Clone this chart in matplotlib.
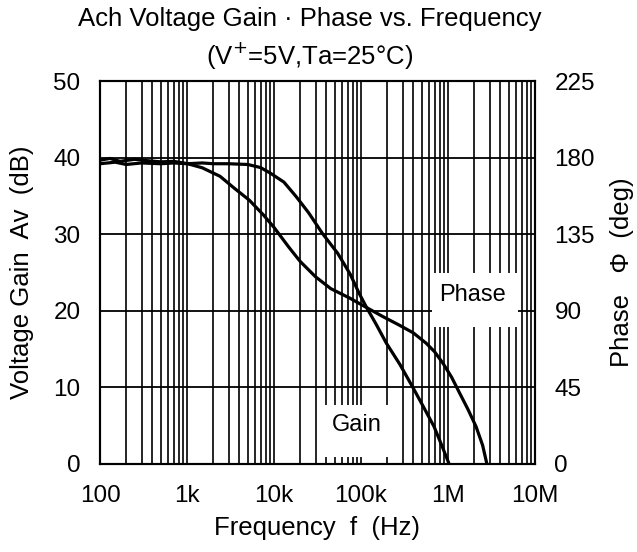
import numpy as np
import matplotlib
matplotlib.use("Agg")
import matplotlib.pyplot as plt
from matplotlib.patches import Rectangle
from matplotlib.ticker import FixedLocator, NullFormatter

plt.rcParams['font.family'] = ['Liberation Sans', 'DejaVu Sans']

# ---- data ----
gain_freq = [100, 150, 200, 300, 500, 700, 1000, 1500, 2000, 3000, 5000, 7000, 9000,
             13000, 18000, 25000, 36000, 54000, 75000, 95000, 115000, 150000,
             195000, 280000, 390000, 520000, 690000, 850000, 1030000]
gain_db = [39.2, 39.4, 39.1, 39.3, 39.2, 39.3, 39.2, 39.3, 39.2, 39.2, 39.1, 38.7, 38.0,
           36.8, 34.9, 32.8, 30.1, 27.5, 24.8, 22.3, 20.5, 18.2,
           15.8, 13.0, 10.1, 7.5, 4.9, 2.4, 0.0]

phase_freq = [100, 130, 170, 250, 350, 500, 700, 1000, 1500, 2400, 3500, 5200, 7500,
              10000, 15000, 20000, 30000, 45000, 74000, 115000, 180000, 275000,
              400000, 560000, 700000, 880000, 1100000, 1350000, 1700000, 2100000,
              2500000, 2800000]
phase_deg = [178.5, 179.5, 177.8, 179.0, 178.2, 177.5, 177.8, 176.5, 174.0, 169.0, 162.0,
             155.0, 146.5, 139.0, 127.0, 119.0, 110.0, 103.0, 97.5, 92.0, 86.5, 81.6,
             77.0, 71.0, 66.0, 59.0, 51.0, 42.0, 32.0, 22.0, 11.0, 0.0]

x_ticks = [100, 1e3, 1e4, 1e5, 1e6, 1e7]
x_labels = ['100', '1k', '10k', '100k', '1M', '10M']
gain_ticks = [0, 10, 20, 30, 40, 50]
phase_ticks = [0, 45, 90, 135, 180, 225]

fig = plt.figure(figsize=(6.37, 5.52), dpi=100)
ax = fig.add_axes([100/637, 88/552, 435/637, 383/552])
ax2 = ax.twinx()

ax.set_xscale('log')
ax.set_xlim(100, 1e7)
ax.set_ylim(0, 50)
ax2.set_ylim(0, 225)

# grid
minor = []
for d in [100, 1e3, 1e4, 1e5, 1e6]:
    for m in range(2, 10):
        minor.append(d * m)
for xv in x_ticks + minor:
    ax.axvline(xv, color='black', lw=1.2, zorder=1)
for yv in gain_ticks:
    ax.axhline(yv, color='black', lw=1.3, zorder=1)

ax.set_xticks(x_ticks)
ax.set_xticklabels(x_labels)
ax.xaxis.set_minor_locator(FixedLocator(minor))
ax.xaxis.set_minor_formatter(NullFormatter())
ax.set_yticks(gain_ticks)
ax2.set_yticks(phase_ticks)

ax.tick_params(axis='x', which='both', direction='in', length=0, labelsize=17.5, pad=15)
ax.tick_params(axis='y', which='both', direction='in', length=0, labelsize=17.5, pad=14)
ax2.tick_params(axis='y', direction='in', length=0, labelsize=17.5, pad=14)

for sp in list(ax.spines.values()) + list(ax2.spines.values()):
    sp.set_linewidth(1.5)

# label boxes (white patches hiding the grid, then the text)
ax.add_patch(Rectangle((6.55e5, 17.9), 6.38e6 - 6.55e5, 7.0, facecolor='white',
                       edgecolor='none', zorder=2))
ax.add_patch(Rectangle((3.86e4, 0.9), 2.04e5 - 3.86e4, 6.8, facecolor='white',
                       edgecolor='none', zorder=2))
ax.text(1.9e6, 22.0, 'Phase', fontsize=17, ha='center', va='center', zorder=3)
ax.text(9.0e4, 5.1, 'Gain', fontsize=17, ha='center', va='center', zorder=3)

ax.plot(gain_freq, gain_db, color='black', lw=2.3, zorder=4)
ax2.plot(phase_freq, phase_deg, color='black', lw=2.3, zorder=4)
ax2.set_zorder(ax.get_zorder() + 1)
ax2.patch.set_visible(False)

ax.set_ylabel('Voltage Gain  Aᴠ  (dB)', fontsize=18.5, va='center')
ax.yaxis.set_label_coords(-78/435, 0.5)
ax2.set_ylabel('Phase   Φ  (deg)', fontsize=18.5, rotation=90, va='center')
ax2.yaxis.set_label_coords(1 + 87/435, 0.5)
ax.set_xlabel('Frequency  f  (Hz)', fontsize=18.5, va='center')
ax.xaxis.set_label_coords(0.5, -64/383)

fig.text(310/637, 1 - 19/552, 'Ach Voltage Gain · Phase vs. Frequency', fontsize=18.5,
         ha='center', va='center')
fig.text(310/637, 1 - 56/552, '(V$^{+}$=5V,Ta=25°C)', fontsize=18.5, ha='center', va='center')

fig.savefig('out.png', dpi=100)
